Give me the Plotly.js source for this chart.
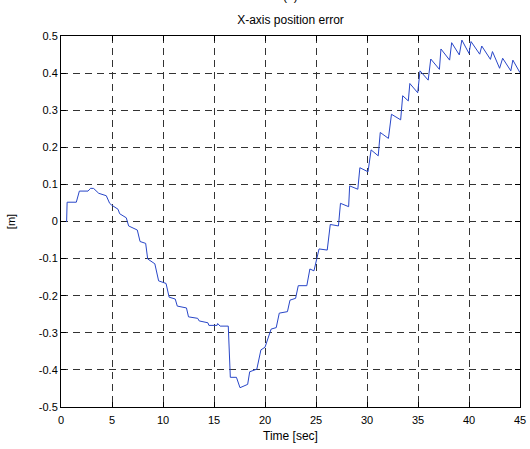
<!DOCTYPE html>
<html>
<head>
<meta charset="utf-8">
<script src="https://cdn.plot.ly/plotly-3.0.1.min.js"></script>
<style>html,body{margin:0;padding:0;background:#fff;}#chart{width:530px;height:449px;}</style>
</head>
<body>
<div id="chart"></div>
<script>
const timeSec = [0,0.55,0.6,1.5,1.8,2.65,2.9,3.2,3.7,4.44,
  4.77,4.93,5.59,5.75,6.4,6.63,7.48,7.75,8.3,8.5,
  9.2,9.38,9.57,10.3,10.6,11.2,11.4,12.3,12.5,13.4,
  13.55,14.4,14.5,15.3,15.36,15.6,16.4,16.6,17.2,17.55,
  18.3,18.5,19.2,19.6,20.0,20.6,21.1,21.4,22.2,22.45,
  23.0,23.26,24.1,24.4,24.8,25.3,26.1,26.4,27.2,27.4,
  28.2,28.3,29.1,29.3,30.1,30.4,31.1,31.3,32.1,32.4,
  33.3,33.5,34.05,34.2,34.97,35.2,36.0,36.25,37.1,37.25,
  38.1,38.3,39.05,39.3,40.0,40.2,41.05,41.25,42.1,42.3,
  43.0,43.3,44.1,44.3,45];
const xError = [0,0,0.052,0.052,0.082,0.082,0.0895,0.089,0.076,0.0695,
  0.049,0.045,0.033,0.021,0.010,-0.012,-0.023,-0.054,-0.059,-0.101,
  -0.114,-0.142,-0.160,-0.167,-0.204,-0.209,-0.228,-0.233,-0.257,-0.261,
  -0.268,-0.273,-0.280,-0.280,-0.275,-0.282,-0.282,-0.42,-0.42,-0.448,
  -0.439,-0.405,-0.398,-0.346,-0.339,-0.290,-0.286,-0.247,-0.243,-0.212,
  -0.207,-0.173,-0.173,-0.128,-0.133,-0.074,-0.077,-0.008,-0.012,0.049,
  0.040,0.096,0.087,0.145,0.134,0.193,0.177,0.240,0.224,0.289,
  0.274,0.339,0.325,0.372,0.347,0.406,0.381,0.438,0.410,0.465,
  0.435,0.482,0.449,0.489,0.453,0.485,0.451,0.473,0.437,0.458,
  0.413,0.44,0.406,0.435,0.401];
const xTickVals = [0,5,10,15,20,25,30,35,40,45];
const xTickText = ["0","5","10","15","20","25","30","35","40","45"];
const yTickVals = [-0.5,-0.4,-0.3,-0.2,-0.1,0,0.1,0.2,0.3,0.4,0.5];
const yTickText = ["-0.5","-0.4","-0.3","-0.2","-0.1","0","0.1","0.2","0.3","0.4","0.5"];

const font = {family: 'Arial, "Liberation Sans", sans-serif', size: 11, color: '#000'};
const axisCommon = {
  showline: true, linecolor: '#000', linewidth: 1, mirror: 'ticks',
  ticks: 'inside', ticklen: 5, tickcolor: '#000', tickwidth: 1,
  showgrid: true, gridcolor: '#333', gridwidth: 1, griddash: '7px,5px',
  zeroline: false, tickfont: font
};
const layout = {
  width: 530, height: 449,
  margin: {l: 61, r: 10, t: 36, b: 42},
  paper_bgcolor: '#fff', plot_bgcolor: '#fff',
  showlegend: false,
  font: font,
  title: {text: 'X-axis position error', font: {family: font.family, size: 12, color: '#000'},
          x: 0.5, xanchor: 'center', xref: 'paper', y: 1 - 20/449, yanchor: 'middle'},
  xaxis: Object.assign({}, axisCommon, {
    range: [0, 45], tickmode: 'array', tickvals: xTickVals, ticktext: xTickText,
    ticklabelstandoff: 3,
    title: {text: 'Time [sec]', font: {family: font.family, size: 12, color: '#000'}, standoff: 6}
  }),
  yaxis: Object.assign({}, axisCommon, {
    range: [-0.5, 0.5], tickmode: 'array', tickvals: yTickVals, ticktext: yTickText,
    title: {text: '[m]', font: {family: font.family, size: 11, color: '#000'}, standoff: 20}
  }),
  annotations: [{
    text: '(a)', xref: 'paper', yref: 'paper', x: 0.5, y: 1 + 40/371,
    xanchor: 'center', yanchor: 'middle', showarrow: false,
    font: {family: font.family, size: 12, color: '#000'}
  }]
};
Plotly.newPlot('chart', [{
  x: timeSec, y: xError, type: 'scatter', mode: 'lines',
  line: {color: 'rgb(40,70,200)', width: 1}, hoverinfo: 'skip'
}], layout, {staticPlot: true, displayModeBar: false});
</script>
</body>
</html>
